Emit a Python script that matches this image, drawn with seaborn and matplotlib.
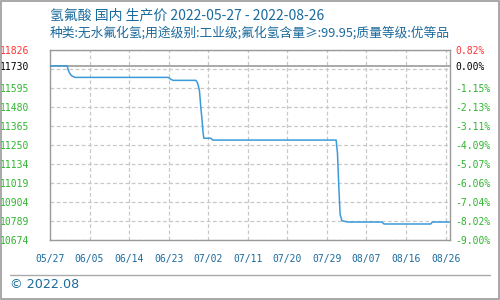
import numpy as np
import pandas as pd
import matplotlib
matplotlib.use("Agg")
import matplotlib.pyplot as plt
import seaborn as sns

# ---- data ----
title_main = "氢氟酸 国内 生产价 2022-05-27 - 2022-08-26"
title_sub = "种类:无水氟化氢;用途级别:工业级;氟化氢含量≥:99.95;质量等级:优等品"
footer = "© 2022.08"

days = [0, 3.9, 4.2, 4.6, 5.0, 5.7, 26.9, 27.4, 28.0, 33.2, 33.6, 34.0, 34.3, 34.6, 34.8, 35.0,
        36.6, 37.0, 65.1, 65.4, 65.7, 66.0, 66.4, 67.8, 75.5, 76.0, 86.6, 87.0, 91.0]
prices = [11730, 11730, 11700, 11680, 11668, 11660, 11660, 11650, 11642, 11642, 11624, 11580, 11482,
          11400, 11330, 11291, 11291, 11280, 11280, 11200, 11000, 10830, 10791, 10783, 10783,
          10771, 10771, 10783, 10783]

x_tick_days = [0, 9, 18, 27, 36, 45, 54, 63, 72, 81, 90]
x_tick_labels = ["05/27", "06/05", "06/14", "06/23", "07/02", "07/11", "07/20", "07/29",
                 "08/07", "08/16", "08/26"]

y_min, y_max = 10674, 11826
ref_price = 11730
left_labels = ["10674", "10789", "10904", "11019", "11134", "11250", "11365", "11480",
               "11595", "", "11826"]
right_labels = ["-9.00%", "-8.02%", "-7.04%", "-6.06%", "-5.07%", "-4.09%", "-3.11%",
                "-2.13%", "-1.15%", "", "0.82%"]
ref_right_label = "0.00%"

# ---- styling ----
blue_text = "#1b6a9c"
green = "#2fb52f"
red = "#ff3333"
line_color = "#3b9ad9"
grid_color = "#c8c8c8"
spine_color = "#999999"
tick_font = "DejaVu Sans Mono"

sns.set_style("white")
plt.rcParams["font.family"] = ["Noto Sans CJK SC", "DejaVu Sans"]

fig = plt.figure(figsize=(5, 3), dpi=100)
ax = fig.add_axes([0.1, 0.2, 0.8, 0.6333])

df = pd.DataFrame({"day": days, "price": prices})
sns.lineplot(data=df, x="day", y="price", ax=ax, color=line_color, linewidth=1.1, zorder=5)

ax.set_xlim(0, 91)
ax.set_ylim(y_min, y_max)
grid_vals = np.linspace(y_min, y_max, 11)

ax.set_yticks(list(grid_vals) + [ref_price])
ax.set_yticklabels(left_labels + [str(ref_price)])
for lbl, txt in zip(ax.get_yticklabels(), left_labels + [str(ref_price)]):
    lbl.set_fontfamily(tick_font)
    lbl.set_fontsize(7)
    if txt == "11826":
        lbl.set_color(red)
    elif txt == str(ref_price):
        lbl.set_color("black")
    else:
        lbl.set_color(green)

ax.set_xticks(x_tick_days)
ax.set_xticklabels(x_tick_labels, fontfamily=tick_font, fontsize=7, color=blue_text)
ax.tick_params(axis="x", length=0, pad=10)
ax.tick_params(axis="y", length=0, pad=15)

ax.set_xlabel("")
ax.set_ylabel("")

# grid
for g in grid_vals:
    ax.axhline(g, color=grid_color, linestyle=(0, (3, 2)), linewidth=0.9, zorder=1)
for d in x_tick_days[1:]:
    ax.axvline(d, color=grid_color, linestyle=(0, (3, 2)), linewidth=0.9, zorder=1)
ax.axhline(ref_price, color="#9a9a9a", linewidth=1.2, zorder=2)

for s in ax.spines.values():
    s.set_color(spine_color)
    s.set_linewidth(1.0)

# right axis
ax2 = ax.twinx()
ax2.set_ylim(y_min, y_max)
ax2.set_yticks(list(grid_vals) + [ref_price])
ax2.set_yticklabels(right_labels + [ref_right_label])
for lbl, txt in zip(ax2.get_yticklabels(), right_labels + [ref_right_label]):
    lbl.set_fontfamily(tick_font)
    lbl.set_fontsize(7)
    if txt == "0.82%":
        lbl.set_color(red)
    elif txt == ref_right_label:
        lbl.set_color("black")
    else:
        lbl.set_color(green)
ax2.tick_params(axis="y", length=0, pad=4)
for s in ax2.spines.values():
    s.set_visible(False)

# titles
fig.text(0.1, 1 - 15 / 300, title_main, fontsize=10, color=blue_text, va="center", ha="left")
fig.text(0.1, 1 - 32.5 / 300, title_sub, fontsize=9.2, color=blue_text, va="center", ha="left")

# footer
fig.add_artist(plt.Line2D([10 / 500, 490 / 500], [1 - 275 / 300] * 2, color="#aaaaaa",
                          linewidth=1.0, transform=fig.transFigure))
fig.text(10 / 500, 1 - 285 / 300, footer, fontsize=9.2, color=blue_text, va="center",
         ha="left", family=["DejaVu Sans"])

# outer border
fig.add_artist(plt.Rectangle((0.001, 0.002), 0.997, 0.995, fill=False, edgecolor="#999999",
                             linewidth=1.2, transform=fig.transFigure))

fig.savefig("out.png", dpi=100)
